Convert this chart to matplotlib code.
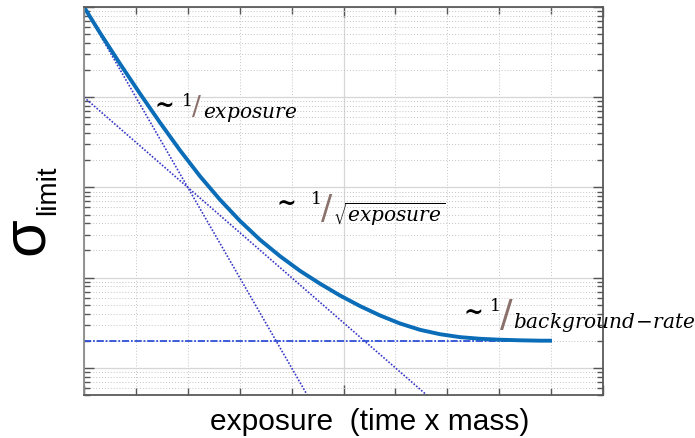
import matplotlib
matplotlib.use("Agg")
import matplotlib.pyplot as plt
from matplotlib.ticker import LogLocator, FixedLocator, NullFormatter

plt.rcParams['mathtext.fontset'] = 'dejavuserif'

# total sensitivity curve
exposure = [1, 2.03, 4.94, 12.0, 29.1, 70.7, 172, 417, 1010, 2460, 5980,
            14500, 35300, 85600, 208000, 505000, 1230000, 2980000, 7230000,
            17600000, 42700000, 104000000, 252000000, 611000000, 1040000000]
sigma = [10000, 5180, 2350, 1095, 524, 258, 133, 73.1, 42.6, 26.3, 17.3,
         11.9, 8.57, 6.34, 4.84, 3.81, 3.10, 2.64, 2.36, 2.19, 2.10, 2.05,
         2.02, 2.00, 2.00]

# asymptotes
lin_x = [1, 20000]
lin_y = [10000, 0.5]
sqrt_x = [1, 4000000]
sqrt_y = [1000, 0.5]
bkg_x = [1, 1040000000]
bkg_y = [2, 2]

W, H = 695, 439
fig = plt.figure(figsize=(W / 100, H / 100), dpi=100)
ax = fig.add_axes([84 / W, 1 - 396 / H, (603 - 84) / W, (396 - 8) / H])

ax.plot(lin_x, lin_y, color='#3838c8', lw=1.2, ls=(0, (1, 1)))
ax.plot(sqrt_x, sqrt_y, color='#3838c8', lw=1.2, ls=(0, (1, 1)))
ax.plot(bkg_x, bkg_y, color='#2f4fd8', lw=1.3, ls=(0, (4, 1, 1, 1)))
ax.plot(exposure, sigma, color='#0b6db7', lw=2.8, solid_capstyle='butt')

ax.set_xscale('log')
ax.set_yscale('log')
ax.set_xlim(1, 1e10)
ax.set_ylim(0.5, 1e4)

ax.xaxis.set_major_locator(FixedLocator([1, 1e5, 1e10]))
ax.xaxis.set_minor_locator(LogLocator(base=10, subs=[1.0], numticks=20))
ax.yaxis.set_major_locator(LogLocator(base=10, numticks=10))
ax.yaxis.set_minor_locator(LogLocator(base=10, subs=range(2, 10), numticks=10))
for axis in (ax.xaxis, ax.yaxis):
    axis.set_major_formatter(NullFormatter())
    axis.set_minor_formatter(NullFormatter())

ax.grid(True, which='major', color='#d6d6d6', lw=0.9, ls='-')
ax.grid(True, which='minor', color='#c4c4c4', lw=0.7, ls=(0, (1, 2)))
ax.set_axisbelow(True)

ax.tick_params(which='both', direction='in', top=True, right=True,
               color='#555555', width=1.0)
ax.tick_params(which='major', length=7)
ax.tick_params(which='minor', length=4)
ax.tick_params(axis='x', which='minor', length=5)
for s in ax.spines.values():
    s.set_color('#5a5a5a')
    s.set_linewidth(1.3)
ax.spines['left'].set_color('#8a8a8a')


def fx(x):
    return x / W


def fy(y):
    return 1 - y / H


sans = ['Liberation Sans', 'DejaVu Sans']
fig.text(fx(370), fy(422), 'exposure  (time x mass)', family=sans,
         fontsize=21.5, ha='center', va='center')
fig.text(fx(27), fy(236), 'σ', family=sans, fontsize=44, rotation=90,
         ha='center', va='center')
fig.text(fx(48), fy(190), 'limit', family=sans, fontsize=20, rotation=90,
         ha='center', va='center')

slash_col = '#8a716c'


def scaling_label(tx, ty, ox, oy, sx, sy, sz, lx, ly, body):
    fig.text(fx(tx), fy(ty), '~', family='DejaVu Serif', fontsize=17,
             fontweight='bold', ha='center', va='center')
    fig.text(fx(ox), fy(oy), '1', family='DejaVu Serif', fontsize=12.5,
             ha='center', va='center')
    fig.text(fx(sx), fy(sy), '/', family='DejaVu Sans', fontsize=sz,
             color=slash_col, ha='center', va='center')
    fig.text(fx(lx), fy(ly), body, fontsize=14.5, ha='left', va='baseline')


scaling_label(164, 105, 187, 102, 196, 108, 19, 203, 118, r'$exposure$')
scaling_label(286, 203, 316, 200, 327, 209, 24, 333, 222,
              r'$\sqrt{exposure}$')
scaling_label(473, 312, 495, 307, 506, 316, 27, 513, 328,
              r'$background\!-\!rate$')

fig.savefig('out.png', dpi=100)
